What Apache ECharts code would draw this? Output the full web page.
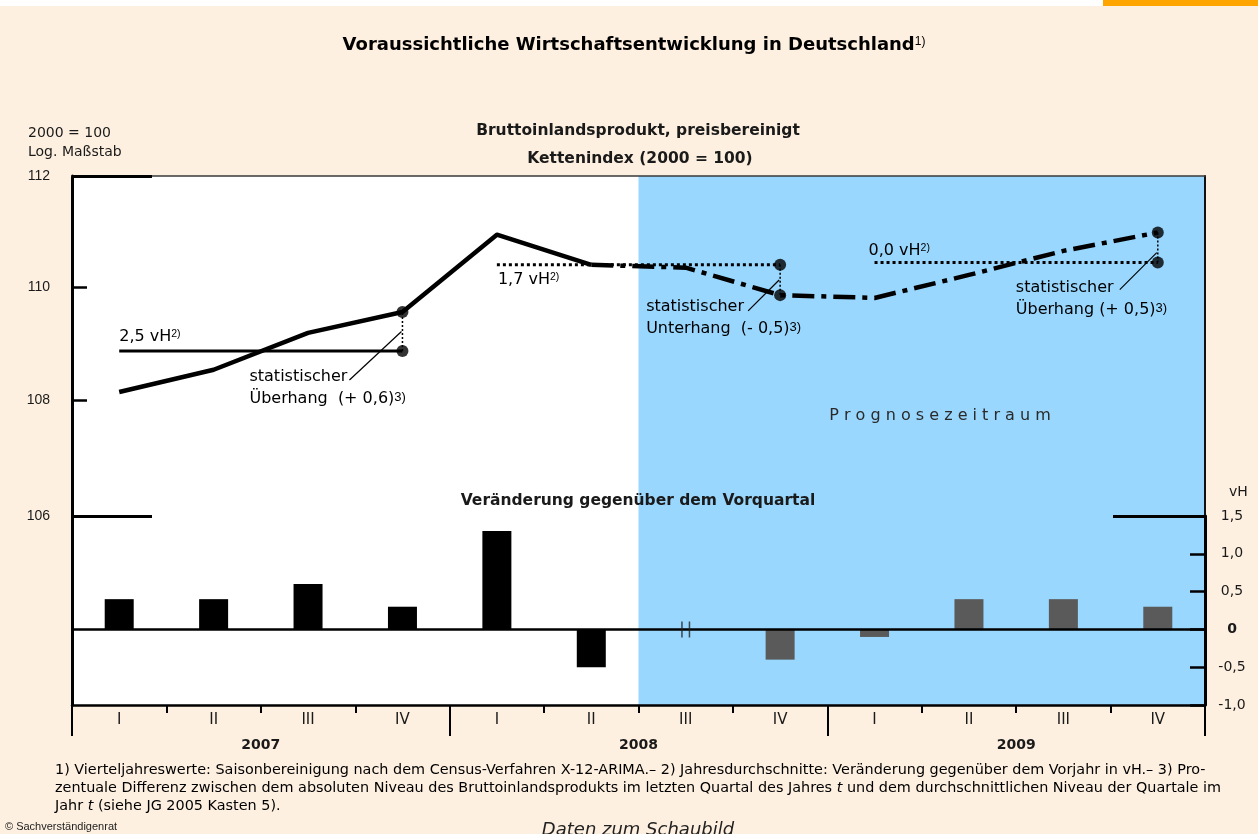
<!DOCTYPE html>
<html><head><meta charset="utf-8">
<script src="https://cdn.jsdelivr.net/npm/echarts@6/dist/echarts.min.js"></script>
<style>html,body{margin:0;padding:0;background:#FEF0E0;}#c{width:1258px;height:834px;}</style>
</head><body><div id="c"></div>
<script>
// ---------- data ----------
const years = ['2007', '2008', '2009'];
const quarters = ['I', 'II', 'III', 'IV'];
// Bruttoinlandsprodukt, Kettenindex (2000 = 100)
const gdpActual   = [108.15, 108.54, 109.19, 109.56, 110.94, 110.40, null, null, null, null, null, null];
const gdpForecast = [null, null, null, null, null, 110.40, 110.35, 109.86, 109.81, 110.22, 110.65, 110.98];
// Jahresdurchschnitte (Niveau) und Veränderung gg. Vorjahr
const annualAvg = [108.87, 110.40, 110.44];
const annualChange = ['2,5', '1,7', '0,0'];
const overhangWord = ['Überhang', 'Unterhang', 'Überhang'];
const overhangValue = ['(+ 0,6)', '(- 0,5)', '(+ 0,5)'];
// Veränderung gegenüber dem Vorquartal (vH)
const changeActual   = [0.4, 0.4, 0.6, 0.3, 1.3, -0.5, null, null, null, null, null, null];
const changeForecast = [null, null, null, null, null, null, 0.0, -0.4, -0.1, 0.4, 0.4, 0.3];
const indexLabelTicks = [106, 108, 110, 112];
const indexShortTicks = [108, 110];
const indexLongTicks = [106, 112];
const forecastStart = 6; // 2008 III

// ---------- chart ----------
const FONT = '"DejaVu Sans", Verdana, sans-serif';
const FONT2 = '"Liberation Sans", Arial, Helvetica, sans-serif';
const INK = '#1a1a1a';
const BLUE = '#99D7FE';
const cats = [];
years.forEach(y => quarters.forEach(q => cats.push(y + ' ' + q)));
const gdpAt = i => (gdpActual[i] != null ? gdpActual[i] : gdpForecast[i]);
const q4 = yi => gdpAt(yi * 4 + 3);

const chart = echarts.init(document.getElementById('c'));

const series = [];
// forecast shading (upper panel)
series.push({ type: 'bar', xAxisIndex: 0, yAxisIndex: 2, data: [], z: 1, silent: true,
  markArea: { silent: true, itemStyle: { color: BLUE }, data: [[{ xAxis: forecastStart }, { xAxis: cats.length - 1 }]] } });
// index lines
series.push({ type: 'line', xAxisIndex: 0, yAxisIndex: 0, data: gdpActual, symbol: 'none', z: 5, silent: true,
  lineStyle: { color: '#000', width: 4.5, join: 'round' } });
series.push({ type: 'line', xAxisIndex: 0, yAxisIndex: 0, data: gdpForecast, symbol: 'none', z: 5, silent: true,
  lineStyle: { color: '#000', width: 4.5, type: [22, 7, 5, 7], join: 'round' } });
// annual averages
annualAvg.forEach((v, yi) => {
  series.push({ type: 'line', xAxisIndex: 0, yAxisIndex: 0, symbol: 'none', z: 4, silent: true,
    data: cats.map((c, i) => (Math.floor(i / 4) === yi ? v : null)),
    lineStyle: { color: '#000', width: 3, type: yi === 0 ? 'solid' : [3, 3], cap: 'butt' } });
  series.push({ type: 'line', xAxisIndex: 0, yAxisIndex: 0, symbol: 'none', z: 4, silent: true,
    data: [[yi * 4 + 3, v], [yi * 4 + 3, q4(yi)]],
    lineStyle: { color: '#000', width: 1.5, type: [2, 2] } });
});
// dots
const dots = [];
annualAvg.forEach((v, yi) => { dots.push([yi * 4 + 3, v]); dots.push([yi * 4 + 3, q4(yi)]); });
series.push({ type: 'scatter', xAxisIndex: 0, yAxisIndex: 0, data: dots, symbolSize: 12, z: 6, silent: true,
  itemStyle: { color: '#000' } });
// bars
series.push({ type: 'bar', xAxisIndex: 1, yAxisIndex: 3, data: changeActual, barWidth: 29, barGap: '-100%', z: 3,
  silent: true, itemStyle: { color: '#000' },
  markArea: { silent: true, itemStyle: { color: BLUE }, data: [[{ xAxis: forecastStart }, { xAxis: cats.length - 1 }]] } });
series.push({ type: 'bar', xAxisIndex: 1, yAxisIndex: 3, data: changeForecast.map(v => (v === 0 ? null : v)),
  barWidth: 29, barGap: '-100%', z: 3, silent: true, itemStyle: { color: '#5a5a5a' },
  markLine: { silent: true, symbol: 'none', label: { show: false }, lineStyle: { color: '#000', width: 2.5, type: 'solid' },
    data: [{ yAxis: 0 }] } });
// zero-change marker "||"
series.push({ type: 'scatter', xAxisIndex: 1, yAxisIndex: 3, z: 6, silent: true,
  data: changeForecast.map((v, i) => (v === 0 ? [i, 0] : null)).filter(d => d),
  symbol: 'path://M0,0h1.5v16h-1.5zM7.5,0h1.5v16h-1.5z', symbolSize: [9, 16], itemStyle: { color: '#222' } });

const logAxisBase = { type: 'log', logBase: 10, min: 106, max: 112, gridIndex: 0, position: 'left', splitLine: { show: false }, z: 5 };

const option = {
  backgroundColor: '#FEF0E0',
  animation: false,
  textStyle: { fontFamily: FONT },
  grid: [
    { left: 72, right: 53, top: 176, height: 340, show: true, backgroundColor: '#fff', borderWidth: 0 },
    { left: 72, right: 53, top: 516, height: 189, show: true, backgroundColor: '#fff', borderWidth: 0 }
  ],
  xAxis: [
    { type: 'category', gridIndex: 0, data: cats, position: 'top', z: 5,
      axisLine: { show: true, onZero: false, lineStyle: { color: '#3a3a3a', width: 1.5 } }, axisTick: { show: false }, axisLabel: { show: false } },
    { type: 'category', gridIndex: 1, data: cats, position: 'bottom', z: 5,
      axisLine: { show: true, onZero: false, lineStyle: { color: '#000', width: 2.5 } },
      axisTick: { show: true, length: 8, interval: 0, lineStyle: { color: '#000', width: 2 } },
      axisLabel: { interval: 0, margin: 8, fontSize: 15, color: INK, fontFamily: FONT, formatter: v => v.split(' ')[1] } },
    { type: 'category', gridIndex: 1, data: years, position: 'bottom', z: 5,
      axisLine: { show: false, onZero: false },
      axisTick: { show: true, length: 31, lineStyle: { color: '#000', width: 2 } },
      axisLabel: { margin: 33, fontSize: 14, fontWeight: 'bold', color: INK, fontFamily: FONT } }
  ],
  yAxis: [
    Object.assign({}, logAxisBase, {
      axisLine: { show: true, lineStyle: { color: '#000', width: 3 } },
      axisTick: { show: true, inside: true, length: 15, customValues: indexShortTicks, lineStyle: { color: '#000', width: 2.5 } },
      axisLabel: { show: true, customValues: indexLabelTicks, margin: 22, fontSize: 14, color: INK, fontFamily: FONT2 } }),
    Object.assign({}, logAxisBase, {
      axisLine: { show: false },
      axisTick: { show: true, inside: true, length: 80, customValues: indexLongTicks, lineStyle: { color: '#000', width: 3 } },
      axisLabel: { show: false } }),
    { type: 'value', gridIndex: 0, position: 'right', min: 0, max: 1, splitLine: { show: false }, z: 5,
      axisLine: { show: true, lineStyle: { color: '#111', width: 2 } }, axisTick: { show: false }, axisLabel: { show: false } },
    { type: 'value', gridIndex: 1, position: 'right', min: -1, max: 1.5, interval: 0.5, splitLine: { show: false }, z: 5,
      axisLine: { show: true, lineStyle: { color: '#000', width: 3 } },
      axisTick: { show: true, inside: true, length: 15, lineStyle: { color: '#000', width: 2.5 } },
      axisLabel: { margin: 27, align: 'center', fontSize: 14, color: INK, fontFamily: FONT,
        formatter: v => (v === 0 ? '{b|0}' : v.toFixed(1).replace('.', ',')),
        rich: { b: { fontWeight: 'bold', fontSize: 14, color: INK, fontFamily: FONT } } } },
    { type: 'value', gridIndex: 1, position: 'right', min: -1, max: 1.5, splitLine: { show: false }, z: 5,
      axisLine: { show: false },
      axisTick: { show: true, inside: true, length: 92, customValues: [1.5], lineStyle: { color: '#000', width: 3 } },
      axisLabel: { show: false } },
    { type: 'value', gridIndex: 1, position: 'left', min: -1, max: 1.5, splitLine: { show: false }, z: 5,
      axisLine: { show: true, lineStyle: { color: '#000', width: 3 } }, axisTick: { show: false }, axisLabel: { show: false } }
  ],
  series: series
};
chart.setOption(option);

// ---------- text / annotations ----------
const rich16 = {
  n: { fontSize: 16, fontFamily: FONT, color: INK },
  s: { fontSize: 10.5, fontFamily: FONT2, color: INK, verticalAlign: 'top' },
  S: { fontSize: 13, fontFamily: FONT2, color: INK, verticalAlign: 'top' }
};
const g = [];
// top decoration
g.push({ type: 'rect', shape: { x: 0, y: 0, width: 1103, height: 6 }, style: { fill: '#fff' }, silent: true });
g.push({ type: 'rect', shape: { x: 1103, y: 0, width: 155, height: 6 }, style: { fill: '#FFA500' }, silent: true });
// titles
g.push({ type: 'text', x: 634, y: 45, silent: true, z: 10, style: {
  text: '{t|Voraussichtliche Wirtschaftsentwicklung in Deutschland}{u|1)}', align: 'center', verticalAlign: 'middle',
  rich: { t: { fontSize: 18, fontWeight: 'bold', fontFamily: FONT, color: INK }, u: { fontSize: 12, fontFamily: FONT2, color: INK, verticalAlign: 'top' } } } });
g.push({ type: 'text', x: 638, y: 131, silent: true, z: 10, style: { text: 'Bruttoinlandsprodukt, preisbereinigt', align: 'center', verticalAlign: 'middle', font: 'bold 15.5px ' + FONT, fill: INK } });
g.push({ type: 'text', x: 640, y: 159, silent: true, z: 10, style: { text: 'Kettenindex (2000 = 100)', align: 'center', verticalAlign: 'middle', font: 'bold 15.5px ' + FONT, fill: INK } });
g.push({ type: 'text', x: 638, y: 501, silent: true, z: 10, style: { text: 'Veränderung gegenüber dem Vorquartal', align: 'center', verticalAlign: 'middle', font: 'bold 15.5px ' + FONT, fill: INK } });
g.push({ type: 'text', x: 28, y: 133, silent: true, z: 10, style: { text: '2000 = 100', verticalAlign: 'middle', font: '14px ' + FONT, fill: INK } });
g.push({ type: 'text', x: 28, y: 152, silent: true, z: 10, style: { text: 'Log. Maßstab', verticalAlign: 'middle', font: '14px ' + FONT, fill: INK } });
g.push({ type: 'text', x: 1229, y: 492, silent: true, z: 10, style: { text: 'vH', verticalAlign: 'middle', font: '14px ' + FONT, fill: INK } });
g.push({ type: 'text', x: 940, y: 416, silent: true, z: 10, style: { text: 'P r o g n o s e z e i t r a u m', align: 'center', verticalAlign: 'middle', font: '16px ' + FONT, fill: '#2a2a2a' } });

// annotations anchored on data points
const px = (i, v) => chart.convertToPixel({ xAxisIndex: 0, yAxisIndex: 0 }, [i, v]);
const annot = [
  { vh: [0, -14], st: [-153, 26], lead: [-53, 29] },
  { vh: [1, 15], st: [-134, 42], lead: [-32, 46] },
  { vh: [-6, -12], st: [-142, 25], lead: [-38, 27] }
];
annualAvg.forEach((v, yi) => {
  const a = annot[yi];
  const p1 = px(yi * 4, v);
  const pAvg = px(yi * 4 + 3, v);
  const pQ = px(yi * 4 + 3, q4(yi));
  g.push({ type: 'text', x: p1[0] + a.vh[0], y: pAvg[1] + a.vh[1], silent: true, z: 10, style: {
    text: '{n|' + annualChange[yi] + ' vH}{s|2)}', verticalAlign: 'middle', rich: rich16 } });
  const sx = pAvg[0] + a.st[0], sy = pAvg[1] + a.st[1];
  g.push({ type: 'text', x: sx, y: sy, silent: true, z: 10, style: { text: '{n|statistischer}', verticalAlign: 'middle', rich: rich16 } });
  g.push({ type: 'text', x: sx, y: sy + 22, silent: true, z: 10, style: {
    text: '{n|' + overhangWord[yi] + (yi === 2 ? ' ' : '  ') + overhangValue[yi] + '}{S|3)}', verticalAlign: 'middle', rich: rich16 } });
  const midY = (pAvg[1] + pQ[1]) / 2;
  g.push({ type: 'line', silent: true, z: 9, shape: { x1: pAvg[0] + a.lead[0], y1: pAvg[1] + a.lead[1], x2: pAvg[0] - 1, y2: yi === 2 ? midY + 5 : midY },
    style: { stroke: '#000', lineWidth: 1.2 } });
});

// footnotes
const fn = { n: { fontSize: 14.4, fontFamily: FONT, color: '#222' }, i: { fontSize: 14.4, fontFamily: FONT, fontStyle: 'italic', color: '#222' } };
g.push({ type: 'text', x: 55, y: 770, silent: true, z: 10, style: { verticalAlign: 'middle', rich: fn,
  text: '{n|1) Vierteljahreswerte: Saisonbereinigung nach dem Census-Verfahren X-12-ARIMA.– 2) Jahresdurchschnitte: Veränderung gegenüber dem Vorjahr in vH.– 3) Pro-}' } });
g.push({ type: 'text', x: 55, y: 788, silent: true, z: 10, style: { verticalAlign: 'middle', rich: fn,
  text: '{n|zentuale Differenz zwischen dem absoluten Niveau des Bruttoinlandsprodukts im letzten Quartal des Jahres }{i|t}{n| und dem durchschnittlichen Niveau der Quartale im}' } });
g.push({ type: 'text', x: 55, y: 806, silent: true, z: 10, style: { verticalAlign: 'middle', rich: fn,
  text: '{n|Jahr }{i|t}{n| (siehe JG 2005 Kasten 5).}' } });
g.push({ type: 'text', x: 5, y: 827, silent: true, z: 10, style: { text: '© Sachverständigenrat', verticalAlign: 'middle', font: '11px ' + FONT2, fill: '#222' } });
g.push({ type: 'text', x: 638, y: 830, silent: true, z: 10, style: { text: 'Daten zum Schaubild', align: 'center', verticalAlign: 'middle', font: 'italic 18px ' + FONT, fill: '#222' } });

chart.setOption({ graphic: g });
</script>
</body></html>
